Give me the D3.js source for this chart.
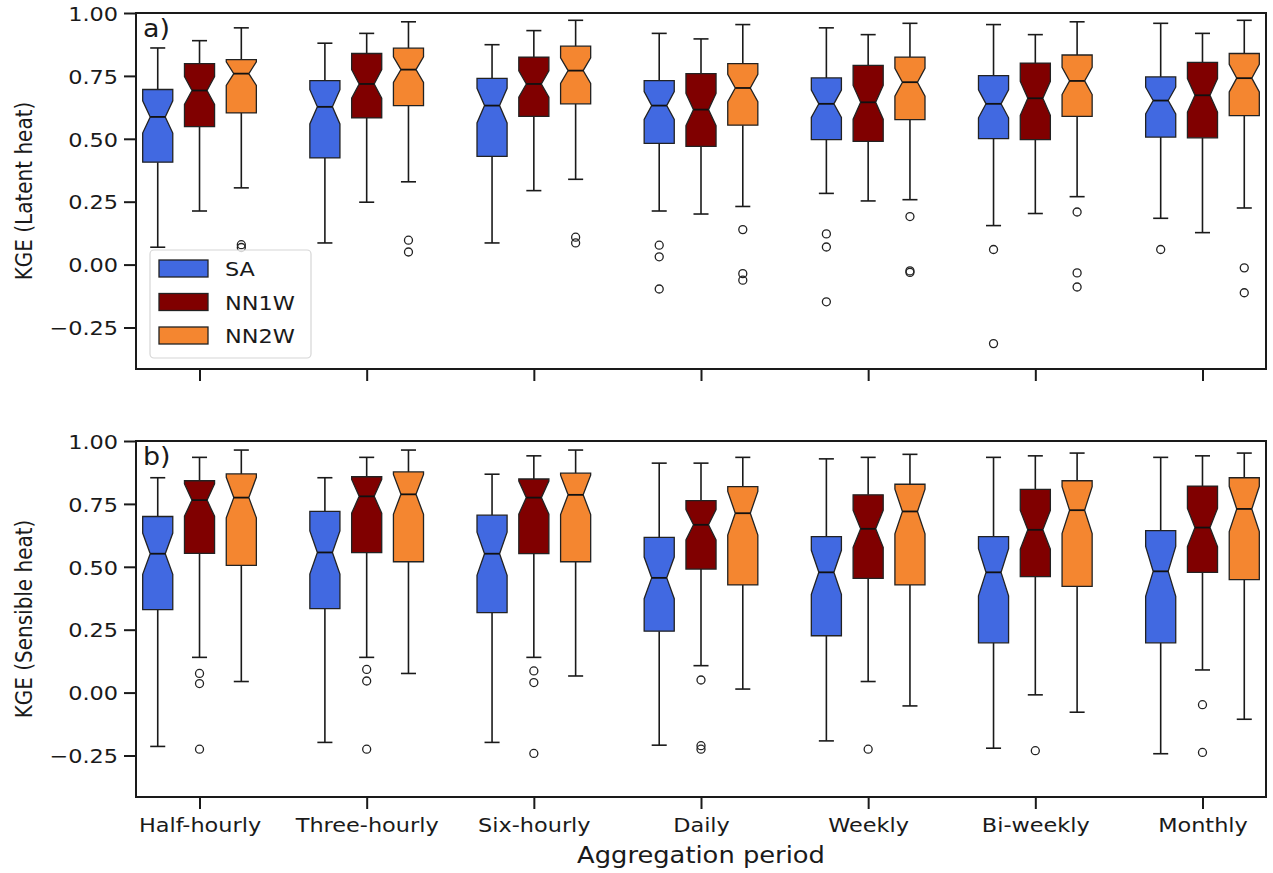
<!DOCTYPE html>
<html>
<head>
<meta charset="utf-8">
<script src="https://cdn.jsdelivr.net/npm/d3@7"></script>
<style>
  html, body { margin: 0; padding: 0; background: #ffffff; }
  svg { display: block; }
</style>
</head>
<body>
<svg id="chart" width="1273" height="873"></svg>
<script>
// Aggregation periods along the x axis
const categories = ["Half-hourly", "Three-hourly", "Six-hourly", "Daily", "Weekly", "Bi-weekly", "Monthly"];
const models = ["SA", "NN1W", "NN2W"];
const modelColors = ["#4169E1", "#800000", "#F48630"];
const yTickValues = [1.0, 0.75, 0.5, 0.25, 0.0, -0.25];
const yTickLabels = ["1.00", "0.75", "0.50", "0.25", "0.00", "\u22120.25"];

// Five-number summaries per period: [lower whisker, Q1, median, Q3, upper whisker]
const latentSA = [
  [0.069, 0.407, 0.587, 0.696, 0.861],
  [0.086, 0.424, 0.627, 0.731, 0.880],
  [0.086, 0.430, 0.632, 0.740, 0.874],
  [0.213, 0.482, 0.632, 0.731, 0.919],
  [0.283, 0.497, 0.639, 0.742, 0.941],
  [0.155, 0.501, 0.639, 0.751, 0.954],
  [0.184, 0.507, 0.652, 0.746, 0.959]
];
const latentNN1W = [
  [0.213, 0.548, 0.692, 0.799, 0.890],
  [0.248, 0.583, 0.718, 0.839, 0.919],
  [0.294, 0.589, 0.718, 0.825, 0.930],
  [0.201, 0.470, 0.616, 0.759, 0.897],
  [0.253, 0.490, 0.645, 0.792, 0.914],
  [0.203, 0.497, 0.661, 0.801, 0.914],
  [0.127, 0.504, 0.673, 0.804, 0.919]
];
const latentNN2W = [
  [0.305, 0.603, 0.759, 0.815, 0.941],
  [0.329, 0.632, 0.775, 0.860, 0.965],
  [0.339, 0.639, 0.771, 0.868, 0.971],
  [0.231, 0.554, 0.702, 0.799, 0.954],
  [0.258, 0.576, 0.725, 0.825, 0.959],
  [0.270, 0.589, 0.730, 0.833, 0.965],
  [0.225, 0.592, 0.741, 0.839, 0.971]
];
const latentSAOut = [[], [], [], [0.077, 0.031, -0.097], [0.122, 0.070, -0.148], [0.060, -0.314], [0.060]];
const latentNN1WOut = [[], [], [], [], [], [], []];
const latentNN2WOut = [[0.079, 0.068], [0.097, 0.050], [0.109, 0.086], [0.139, -0.036, -0.062], [0.191, -0.025, -0.031], [0.209, -0.033, -0.089], [-0.013, -0.112]];

const sensibleSA = [
  [-0.214, 0.330, 0.552, 0.700, 0.854],
  [-0.198, 0.334, 0.557, 0.720, 0.854],
  [-0.198, 0.318, 0.552, 0.705, 0.868],
  [-0.209, 0.244, 0.456, 0.617, 0.912],
  [-0.192, 0.226, 0.478, 0.620, 0.929],
  [-0.221, 0.198, 0.478, 0.620, 0.935],
  [-0.243, 0.198, 0.482, 0.644, 0.935]
];
const sensibleNN1W = [
  [0.140, 0.553, 0.765, 0.842, 0.935],
  [0.140, 0.556, 0.780, 0.858, 0.935],
  [0.140, 0.552, 0.775, 0.849, 0.941],
  [0.107, 0.491, 0.667, 0.763, 0.912],
  [0.044, 0.454, 0.651, 0.786, 0.935],
  [-0.009, 0.461, 0.647, 0.808, 0.941],
  [0.090, 0.478, 0.656, 0.821, 0.941]
];
const sensibleNN2W = [
  [0.044, 0.506, 0.775, 0.869, 0.964],
  [0.076, 0.520, 0.788, 0.877, 0.964],
  [0.066, 0.520, 0.786, 0.872, 0.964],
  [0.014, 0.428, 0.713, 0.819, 0.935],
  [-0.053, 0.428, 0.720, 0.828, 0.947],
  [-0.078, 0.422, 0.725, 0.842, 0.952],
  [-0.106, 0.449, 0.730, 0.854, 0.952]
];
const sensibleSAOut = [[], [], [], [], [], [], []];
const sensibleNN1WOut = [[0.076, 0.036, -0.225], [0.092, 0.046, -0.225], [0.086, 0.040, -0.242], [0.050, -0.211, -0.225], [-0.225], [-0.231], [-0.048, -0.238]];
const sensibleNN2WOut = [[], [], [], [], [], [], []];

// Number of sites behind each box (sets the notch half-height 1.57*IQR/sqrt(n))
const sitesPerBox = 50;

const panels = [
  { tag: "a)", ylabel: "KGE (Latent heat)", top: 13,
    stats: [latentSA, latentNN1W, latentNN2W], out: [latentSAOut, latentNN1WOut, latentNN2WOut],
    legend: true, xLabels: false },
  { tag: "b)", ylabel: "KGE (Sensible heat)", top: 441,
    stats: [sensibleSA, sensibleNN1W, sensibleNN2W], out: [sensibleSAOut, sensibleNN1WOut, sensibleNN2WOut],
    legend: false, xLabels: true }
];

const FONT = "DejaVu Sans, sans-serif";
const TXT = "#1a1a1a";
const SX = 1.12;               // horizontal glyph stretch used for all labels
const left = 136, right = 1266, panelH = 356;
const boxW = 0.18;             // box width in x units
const offsets = [-0.25, 0, 0.25];

const svg = d3.select("#chart");

const x = d3.scaleLinear().domain([-0.38, 6.38]).range([left, right]);

function stretched(sel, tx, ty, rot) {
  sel.attr("transform", `translate(${tx},${ty}) scale(${SX},1)` + (rot ? ` rotate(${rot})` : ""));
}

panels.forEach(p => {
  const y = d3.scaleLinear().domain([-0.415, 1.0]).range([p.top + panelH, p.top]);
  const g = svg.append("g");

  // y axis
  const yAxis = d3.axisLeft(y).tickValues(yTickValues)
    .tickFormat((d, i) => yTickLabels[i]).tickSize(12).tickPadding(6);
  const ya = g.append("g").attr("transform", `translate(${left},0)`).call(yAxis);
  ya.select(".domain").remove();
  ya.selectAll(".tick line").attr("stroke", TXT).attr("stroke-width", 2);
  ya.selectAll(".tick text").each(function () {
    const t = d3.select(this);
    t.attr("x", null).attr("dy", "0.36em")
      .attr("font-family", FONT).attr("font-size", 20).attr("fill", TXT);
    stretched(t, -18, 0);
  });

  // x axis
  const xAxis = d3.axisBottom(x).tickValues(d3.range(categories.length))
    .tickFormat(i => p.xLabels ? categories[i] : "").tickSize(12).tickPadding(8);
  const xa = g.append("g").attr("transform", `translate(0,${p.top + panelH})`).call(xAxis);
  xa.select(".domain").remove();
  xa.selectAll(".tick line").attr("stroke", TXT).attr("stroke-width", 2);
  xa.selectAll(".tick text").each(function () {
    const t = d3.select(this);
    t.attr("y", null).attr("dy", null)
      .attr("font-family", FONT).attr("font-size", 20).attr("fill", TXT);
    stretched(t, 0, 35);
  });

  // boxes
  models.forEach((m, mi) => {
    const mg = g.append("g");
    p.stats[mi].forEach((s, ci) => {
      const [lo, q1, med, q3, hi] = s;
      const pos = ci + offsets[mi];
      const xl = x(pos - boxW / 2), xr = x(pos + boxW / 2);
      const cl = x(pos - boxW / 4), cr = x(pos + boxW / 4);
      const xc = x(pos);
      const notch = 1.57 * (q3 - q1) / Math.sqrt(sitesPerBox);
      const nlo = med - notch, nhi = med + notch;

      // whiskers and caps
      mg.append("line").attr("x1", xc).attr("x2", xc).attr("y1", y(q3)).attr("y2", y(hi))
        .attr("stroke", TXT).attr("stroke-width", 1.6);
      mg.append("line").attr("x1", xc).attr("x2", xc).attr("y1", y(q1)).attr("y2", y(lo))
        .attr("stroke", TXT).attr("stroke-width", 1.6);
      [lo, hi].forEach(v => {
        mg.append("line").attr("x1", cl).attr("x2", cr).attr("y1", y(v)).attr("y2", y(v))
          .attr("stroke", TXT).attr("stroke-width", 1.6);
      });

      // notched box
      const pts = [
        [xl, y(q1)], [xr, y(q1)], [xr, y(nlo)], [cr, y(med)], [xr, y(nhi)], [xr, y(q3)],
        [xl, y(q3)], [xl, y(nhi)], [cl, y(med)], [xl, y(nlo)]
      ];
      mg.append("path").attr("d", d3.line()(pts) + "Z")
        .attr("fill", modelColors[mi]).attr("stroke", "#222").attr("stroke-width", 1.3)
        .attr("stroke-linejoin", "miter");

      // median
      mg.append("line").attr("x1", cl).attr("x2", cr).attr("y1", y(med)).attr("y2", y(med))
        .attr("stroke", "#111").attr("stroke-width", 1.8);

      // outliers
      p.out[mi][ci].forEach(v => {
        mg.append("circle").attr("cx", xc).attr("cy", y(v)).attr("r", 4)
          .attr("fill", "none").attr("stroke", "#222").attr("stroke-width", 1.3);
      });
    });
  });

  // frame
  g.append("rect").attr("x", left).attr("y", p.top).attr("width", right - left).attr("height", panelH)
    .attr("fill", "none").attr("stroke", TXT).attr("stroke-width", 2);

  // panel tag
  const tag = g.append("text").text(p.tag).attr("font-family", FONT).attr("font-size", 24).attr("fill", TXT);
  stretched(tag, 143, p.top + 24);

  // y label
  const yl = g.append("text").text(p.ylabel).attr("font-family", FONT).attr("font-size", 20)
    .attr("fill", TXT).attr("text-anchor", "middle");
  stretched(yl, 32, p.top + panelH / 2, -90);

  // legend
  if (p.legend) {
    const lg = g.append("g");
    lg.append("rect").attr("x", 150).attr("y", 250).attr("width", 161).attr("height", 108)
      .attr("rx", 4).attr("fill", "#ffffff").attr("fill-opacity", 0.8)
      .attr("stroke", "#d6d6d6").attr("stroke-width", 1.2);
    models.forEach((m, mi) => {
      const ry = 260 + mi * 33.5;
      lg.append("rect").attr("x", 159).attr("y", ry).attr("width", 49).attr("height", 17)
        .attr("fill", modelColors[mi]).attr("stroke", "#222").attr("stroke-width", 1.3);
      const t = lg.append("text").text(m).attr("font-family", FONT).attr("font-size", 20).attr("fill", TXT);
      stretched(t, 225, ry + 16);
    });
  }
});

// shared x label
const xl = svg.append("text").text("Aggregation period").attr("font-family", FONT).attr("font-size", 23)
  .attr("fill", TXT).attr("text-anchor", "middle");
stretched(xl, (left + right) / 2, 863);
</script>
</body>
</html>
